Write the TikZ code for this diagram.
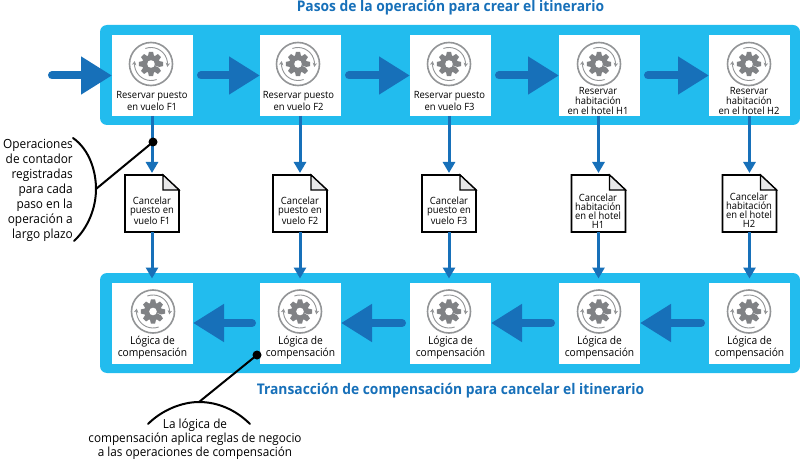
\documentclass[tikz,border=0pt]{standalone}
\usepackage{fontspec}
\setmainfont{Open Sans}[FakeStretch=0.94]
\usetikzlibrary{arrows.meta,calc}
\definecolor{panel}{HTML}{22BCEE}
\definecolor{flow}{HTML}{1770B9}
\definecolor{gearc}{HTML}{808285}
\tikzset{
  x=1pt,y=-1pt,
  panelbox/.style={fill=panel,rounded corners=7pt},
  stepbox/.style={fill=white,minimum width=81pt,minimum height=81pt,inner sep=0pt,outer sep=0pt},
  steptext/.style={align=center,font=\fontsize{10}{11.8}\selectfont,text=black,anchor=center,inner sep=0pt},
  comptext/.style={align=center,font=\fontsize{10.9}{12}\selectfont,text=black,anchor=center,inner sep=0pt},
  doctext/.style={align=center,font=\fontsize{10}{9}\selectfont,text=black,inner sep=0pt},
  docbox/.style={minimum width=54pt,minimum height=57pt,inner sep=0pt,outer sep=0pt},
  bigflow/.style={draw=flow,line width=8pt,line cap=round,-{Triangle[length=31pt,width=36pt,color=flow]}},
  thinflow/.style={draw=flow,line width=3pt,-{Triangle[length=11pt,width=12pt,color=flow]}},
  callout/.style={draw=black,line width=2pt,line cap=round},
  dotmark/.style={circle,fill=black,minimum size=9pt,inner sep=0pt},
  titletext/.style={font=\fontsize{14.7}{16}\selectfont\bfseries,text=flow,inner sep=0pt},
  notetext/.style={font=\fontsize{12.6}{15}\selectfont,text=black,inner sep=0pt},
  pics/gearicon/.style={code={
    \draw[gearc!85,line width=1.6pt] (0,0) circle (21.5pt);
    \fill[gearc] (0,0) \foreach \a in {0,45,...,315}{
        -- ({\a-22.5+3}:8.8pt) -- ({\a-10}:12.2pt) -- ({\a+10}:12.2pt) -- ({\a+22.5-3}:8.8pt)
      } -- cycle;
    \fill[white] (0,0) circle (3.8pt);
    \draw[gearc!85,line width=.9pt,-{Stealth[length=4pt,width=4.5pt]}] (-70:16.5pt) arc (-70:-190:16.5pt);
    \draw[gearc!85,line width=.9pt,-{Stealth[length=4pt,width=4.5pt]}] (-250:16.5pt) arc (-250:-370:16.5pt);
  }}
}
\begin{document}
\begin{tikzpicture}
\useasboundingbox (0,0) rectangle (800,465);
\fill[panelbox] (100,25) rectangle (800,125);
\fill[panelbox] (100,273) rectangle (800,373);
\node[titletext] (t1) at (450.5,8) {Pasos de la operación para crear el itinerario};
\node[titletext] (t2) at (450.5,391) {Transacción de compensación para cancelar el itinerario};

% top row
\node[stepbox] (a1) at (152.5,75.5) {};
\node[stepbox] (a2) at (300.5,75.5) {};
\node[stepbox] (a3) at (450.5,75.5) {};
\node[stepbox] (a4) at (599.5,75.5) {};
\node[stepbox] (a5) at (749.5,75.5) {};
% bottom row
\node[stepbox] (b1) at (152.5,323) {};
\node[stepbox] (b2) at (300.5,323) {};
\node[stepbox] (b3) at (450.5,323) {};
\node[stepbox] (b4) at (599.5,323) {};
\node[stepbox] (b5) at (749.5,323) {};

\foreach \x in {151,298,449,599,749}{\pic at (\x,64) {gearicon};}
\foreach \x in {153,300,449,599,749}{\pic at (\x,311.5) {gearicon};}

\node[steptext] (la1) at (152,101) {Reservar puesto\\en vuelo F1};
\node[steptext] (la2) at (298.5,101) {Reservar puesto\\en vuelo F2};
\node[steptext] (la3) at (449.5,101) {Reservar puesto\\en vuelo F3};
\node[steptext,font=\fontsize{10}{10}\selectfont] (la4) at (598,100.5) {Reservar\\habitación\\en el hotel H1};
\node[steptext,font=\fontsize{10}{10}\selectfont] (la5) at (749,100.5) {Reservar\\habitación\\en el hotel H2};
\foreach \n in {b1,b2,b3,b4,b5}{
  \node[comptext] at ($(\n.south)+(0,-15.5)$) {Lógica de\\compensación};
}

% documents
\foreach \n/\x in {d1/152,d2/300,d3/449,d4/598.5,d5/749.5}{
  \node[docbox] (\n) at (\x,203.5) {};
  \draw[black,line width=1.6pt,fill=white,line join=miter] (\x-27,175) -- (\x+11,175) -- (\x+27,190) -- (\x+27,232) -- (\x-27,232) -- cycle;
  \draw[black,line width=1.2pt,fill=gearc!18] (\x+11,175) -- (\x+11,190) -- (\x+27,190) -- cycle;
}
\node[doctext] at (152,211) {Cancelar\\puesto en\\vuelo F1};
\node[doctext] at (300,211) {Cancelar\\puesto en\\vuelo F2};
\node[doctext] at (449,211) {Cancelar\\puesto en\\vuelo F3};
\node[doctext] at (598,211) {Cancelar\\habitación\\en el hotel\\H1};
\node[doctext] at (749,210) {Cancelar\\habitación\\en el hotel\\H2};

% big arrows
\coordinate (start) at (52,75.5);
\draw[bigflow] (start) -- (a1.west);
\foreach \p/\q in {a1/a2,a2/a3,a3/a4,a4/a5}{
  \draw[bigflow,shorten <=8pt] (\p.east) -- (\q.west);
}
\foreach \p/\q in {b2/b1,b3/b2,b4/b3,b5/b4}{
  \draw[bigflow,shorten <=8pt] (\p.west) -- (\q.east);
}
% thin arrows
\foreach \i in {1,...,5}{
  \draw[thinflow,shorten >=2pt] (d\i.north |- a\i.south) -- (d\i.north);
  \draw[thinflow,shorten >=4pt] (d\i.south) -- (d\i.south |- b\i.north);
}

% callouts
\node[notetext,align=right,anchor=north east] (n1) at (73,139.5) {Operaciones\\de contador\\registradas\\para cada\\paso en la\\operación a\\largo plazo};
\node[notetext,align=center,anchor=north,font=\fontsize{12.5}{14}\selectfont] (n2) at (195,419) {La lógica de\\compensación aplica reglas de negocio\\a las operaciones de compensación};
\coordinate (arc1a) at (73,138);
\coordinate (arc1b) at (74,241);
\coordinate (arc1m) at (96,189);
\coordinate (arc2a) at (148,424);
\coordinate (arc2b) at (250,424);
\coordinate (arc2m) at (199,402);
\draw[callout] (arc1a) .. controls (90,150) and (96,172) .. (arc1m) .. controls (96,208) and (88,228) .. (arc1b);
\draw[callout] (arc2a) .. controls (162,410) and (182,402) .. (arc2m) .. controls (218,402) and (236,410) .. (arc2b);
\node[dotmark] (p1) at (153,142) {};
\node[dotmark] (p2) at (257,355) {};
\draw[callout] (p1.center) -- (arc1m);
\draw[callout] (p2.center) -- (arc2m);
\end{tikzpicture}
\end{document}
